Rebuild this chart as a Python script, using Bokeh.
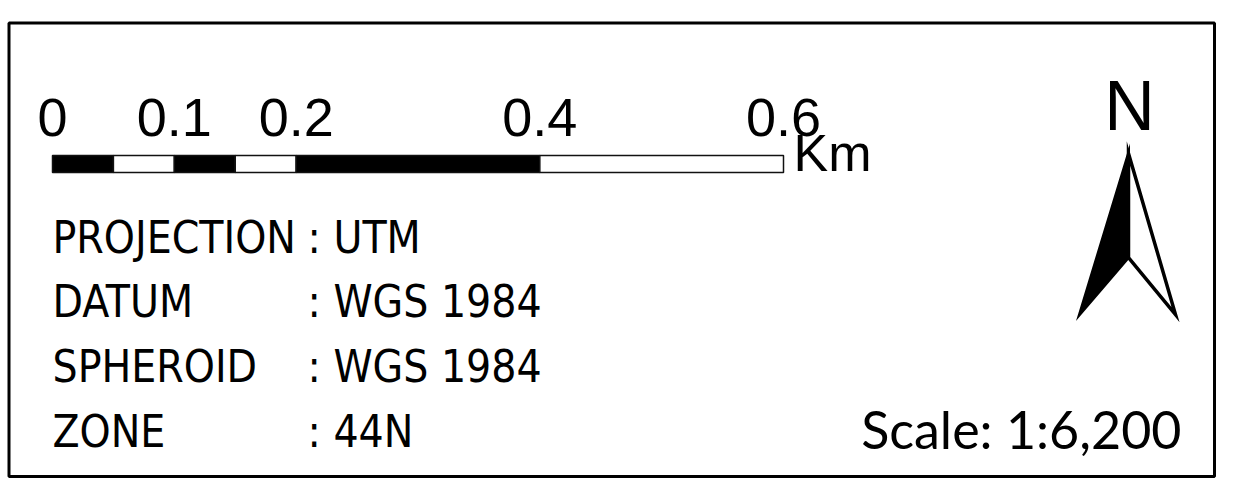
from bokeh.plotting import figure
from bokeh.models import Range1d
from bokeh.core.properties import value
from bokeh.embed import file_html
from bokeh.resources import INLINE

# ---- data ----
scale_breaks_km = [0.0, 0.05, 0.1, 0.15, 0.2, 0.4, 0.6]
segment_fill = ["black", "white", "black", "white", "black", "white"]
scale_label_km = [0.0, 0.1, 0.2, 0.4, 0.6]
scale_label_text = ["0", "0.1", "0.2", "0.4", "0.6"]
scale_unit = "Km"
info_keys = ["PROJECTION", "DATUM", "SPHEROID", "ZONE"]
info_values = ["UTM", "WGS 1984", "WGS 1984", "44N"]
scale_ratio = "1:6,200"
north_label = "N"

W, H = 1224, 478
p = figure(width=W, height=H, output_backend="svg", toolbar_location=None,
           x_range=Range1d(0, W), y_range=Range1d(H, 0),
           min_border=0, background_fill_color="white", border_fill_color="white")
p.axis.visible = False
p.grid.visible = False
p.outline_line_color = None

# baseline correction for svg text (ratio of font size)
BL = 0.37

def base(y, size):
    return y - BL * size

# km range for the scale bar: 0 km -> px 52, 0.6 km -> px 783
px0, px_per_km = 52.0, (783.0 - 52.0) / 0.6
p.extra_x_ranges = {"km": Range1d((0 - px0) / px_per_km, (W - px0) / px_per_km)}

# frame
p.quad(left=[8.5], right=[1214], top=[22.5], bottom=[476], fill_color=None,
       line_color="black", line_width=3)

# scale bar
p.quad(left=scale_breaks_km[:-1], right=scale_breaks_km[1:], top=155, bottom=172,
       fill_color=segment_fill, line_color="#111111", line_width=1.5, x_range_name="km")
p.text(x=scale_label_km, y=base(137, 54), text=scale_label_text, x_range_name="km",
       text_font=value("Liberation Sans"), text_font_size=value("54px"),
       text_align="center", text_baseline="alphabetic", text_color="black")
p.text(x=[scale_breaks_km[-1]], y=[base(172, 52)], text=[scale_unit], x_range_name="km",
       x_offset=10, text_font=value("Liberation Sans"), text_font_size=value("52px"),
       text_align="left", text_baseline="alphabetic", text_color="black")

# info block
FS = 44
ys = [base(y, FS) for y in (253, 317, 382, 447)]
p.text(x=52, y=ys, text=info_keys, text_font=value("DejaVu Sans Condensed"),
       text_font_size=value(f"{FS}px"), text_align="left", text_baseline="alphabetic",
       text_color="black")
p.text(x=307, y=ys, text=[": " + v for v in info_values], text_font=value("DejaVu Sans Condensed"),
       text_font_size=value(f"{FS}px"), text_align="left", text_baseline="alphabetic",
       text_color="black")

# scale ratio
p.text(x=[1181], y=[base(448, 52)], text=["Scale: " + scale_ratio], text_font=value("Lato"),
       text_font_size=value("52px"), text_align="right", text_baseline="alphabetic",
       text_color="black")

# north arrow
p.text(x=[1129], y=[base(131, 70)], text=[north_label], text_font=value("Liberation Sans"),
       text_font_size=value("70px"), text_align="center", text_baseline="alphabetic",
       text_color="black")
tip, notch = (1128, 153), (1128, 257)
left_pt, right_pt = (1079, 314), (1175, 314)
p.patch(x=[tip[0], left_pt[0], notch[0]], y=[tip[1], left_pt[1], notch[1]],
        fill_color="black", line_color="black", line_width=3, line_join="miter")
p.patch(x=[tip[0], notch[0], right_pt[0]], y=[tip[1], notch[1], right_pt[1]],
        fill_color="white", line_color="black", line_width=3.5, line_join="miter")

open("out.html", "w").write(file_html(p, INLINE))
